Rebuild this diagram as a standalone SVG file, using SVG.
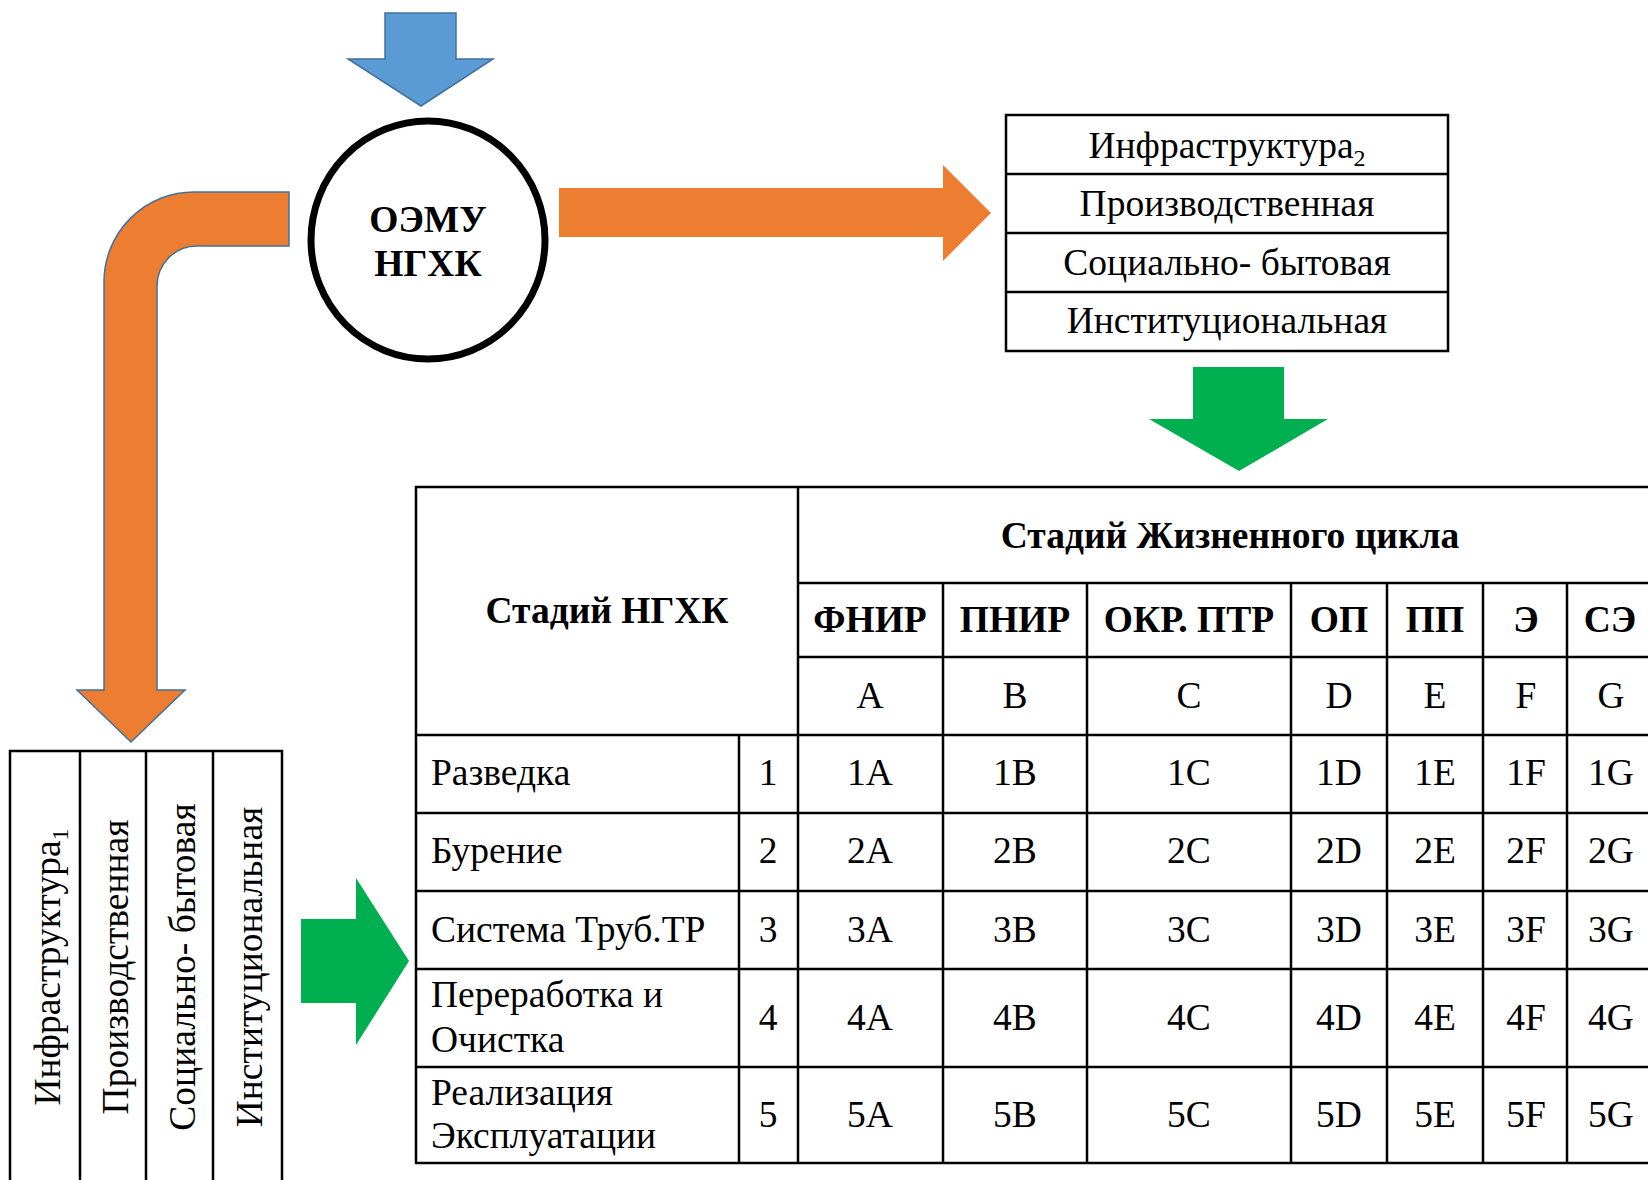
<svg xmlns="http://www.w3.org/2000/svg" width="1648" height="1180" viewBox="0 0 1648 1180">
<style>
  .t { font-family: "Liberation Serif", "Times New Roman", serif; font-size: 37.5px; fill: #000; }
  .b { font-weight: bold; }
  .m { text-anchor: middle; }
  .grid { stroke: #000; stroke-width: 2.5; fill: none; }
  .orange { fill: #ED7D31; }
  .green { fill: #00B050; }
</style>
<rect x="0" y="0" width="1648" height="1180" fill="#fff"/>

<g id="connectors">
  <path id="arrow-in" d="M385,13 L456,13 L456,59 L493,59 L421,106 L348,59 L385,59 Z" fill="#5B9BD5" stroke="#41719C" stroke-width="1.5"/>
  <path id="arrow-right" class="orange" d="M559,188 L943,188 L943,165 L991,213 L943,261 L943,237 L559,237 Z"/>
  <path id="arrow-bent" class="orange" stroke="#41719C" stroke-width="1.5" d="M289,192 L194,192 A90,90 0 0 0 104,282 L104,690 L77,690 L131,742 L185,690 L157,690 L157,286 A40,40 0 0 1 197,246 L289,246 Z"/>
  <path id="arrow-down-green" class="green" d="M1193,367 L1284,367 L1284,419 L1328,419 L1239,471 L1149,419 L1193,419 Z"/>
  <path id="arrow-right-green" class="green" d="M301,919 L356,919 L356,878 L409,961 L356,1045 L356,1003 L301,1003 Z"/>
</g>

<g id="node-oemu">
  <ellipse cx="428" cy="240" rx="117" ry="119" fill="#fff" stroke="#000" stroke-width="7"/>
  <text class="t b m" x="428" y="232" font-size="38.5">ОЭМУ</text>
  <text class="t b m" x="428" y="276" font-size="38.5">НГХК</text>
</g>

<g id="node-infra2">
  <rect class="grid" x="1006" y="115" width="442" height="236"/>
  <line class="grid" x1="1006" y1="174" x2="1448" y2="174"/>
  <line class="grid" x1="1006" y1="233" x2="1448" y2="233"/>
  <line class="grid" x1="1006" y1="292" x2="1448" y2="292"/>
  <text class="t m" x="1227" y="158">Инфраструктура<tspan dy="8" font-size="24">2</tspan></text>
  <text class="t m" x="1227" y="216">Производственная</text>
  <text class="t m" x="1227" y="275">Социально- бытовая</text>
  <text class="t m" x="1227" y="333">Институциональная</text>
</g>

<g id="node-infra1">
  <path class="grid" d="M10,1180 L10,751 L282,751 L282,1180"/>
  <line class="grid" x1="80" y1="751" x2="80" y2="1180"/>
  <line class="grid" x1="146" y1="751" x2="146" y2="1180"/>
  <line class="grid" x1="213" y1="751" x2="213" y2="1180"/>
  <text class="t m" transform="translate(60,967) rotate(-90)">Инфраструктура<tspan dy="8" font-size="24">1</tspan></text>
  <text class="t m" transform="translate(128,967) rotate(-90)">Производственная</text>
  <text class="t m" transform="translate(195,967) rotate(-90)">Социально- бытовая</text>
  <text class="t m" transform="translate(262,967) rotate(-90)">Институциональная</text>
</g>

<g id="node-stages-table">
  <path class="grid" d="M1648,487 L416,487 L416,1163 L1648,1163"/>
  <line class="grid" x1="798" y1="487" x2="798" y2="1163"/>
  <line class="grid" x1="798" y1="583" x2="1648" y2="583"/>
  <line class="grid" x1="798" y1="657" x2="1648" y2="657"/>
  <line class="grid" x1="416" y1="735" x2="1648" y2="735"/>
  <line class="grid" x1="416" y1="813" x2="1648" y2="813"/>
  <line class="grid" x1="416" y1="891" x2="1648" y2="891"/>
  <line class="grid" x1="416" y1="969" x2="1648" y2="969"/>
  <line class="grid" x1="416" y1="1067" x2="1648" y2="1067"/>
  <line class="grid" x1="739" y1="735" x2="739" y2="1163"/>
  <line class="grid" x1="943" y1="583" x2="943" y2="1163"/>
  <line class="grid" x1="1087" y1="583" x2="1087" y2="1163"/>
  <line class="grid" x1="1291" y1="583" x2="1291" y2="1163"/>
  <line class="grid" x1="1387" y1="583" x2="1387" y2="1163"/>
  <line class="grid" x1="1483" y1="583" x2="1483" y2="1163"/>
  <line class="grid" x1="1567" y1="583" x2="1567" y2="1163"/>

  <text class="t b m" x="607" y="623">Стадий НГХК</text>
  <text class="t b m" x="1230" y="548">Стадий Жизненного цикла</text>

  <g class="t b m">
    <text x="870" y="632">ФНИР</text>
    <text x="1015" y="632">ПНИР</text>
    <text x="1189" y="632">ОКР. ПТР</text>
    <text x="1339" y="632">ОП</text>
    <text x="1435" y="632">ПП</text>
    <text x="1526" y="632">Э</text>
    <text x="1610" y="632">СЭ</text>
  </g>
  <g class="t m">
    <text x="870" y="708">A</text>
    <text x="1015" y="708">B</text>
    <text x="1189" y="708">C</text>
    <text x="1339" y="708">D</text>
    <text x="1435" y="708">E</text>
    <text x="1526" y="708">F</text>
    <text x="1611" y="708">G</text>
  </g>

  <g class="t">
    <text x="431" y="785">Разведка</text>
    <text x="431" y="863">Бурение</text>
    <text x="431" y="942">Система Труб.ТР</text>
    <text x="431" y="1007">Переработка и</text>
    <text x="431" y="1052">Очистка</text>
    <text x="431" y="1105">Реализация</text>
    <text x="431" y="1148">Эксплуатации</text>
  </g>
  <g class="t m">
    <text x="768" y="785">1</text>
    <text x="768" y="863">2</text>
    <text x="768" y="942">3</text>
    <text x="768" y="1030">4</text>
    <text x="768" y="1127">5</text>
  </g>

  <g class="t m">
    <text x="870" y="785">1A</text><text x="1015" y="785">1B</text><text x="1189" y="785">1C</text><text x="1339" y="785">1D</text><text x="1435" y="785">1E</text><text x="1526" y="785">1F</text><text x="1611" y="785">1G</text>
    <text x="870" y="863">2A</text><text x="1015" y="863">2B</text><text x="1189" y="863">2C</text><text x="1339" y="863">2D</text><text x="1435" y="863">2E</text><text x="1526" y="863">2F</text><text x="1611" y="863">2G</text>
    <text x="870" y="942">3A</text><text x="1015" y="942">3B</text><text x="1189" y="942">3C</text><text x="1339" y="942">3D</text><text x="1435" y="942">3E</text><text x="1526" y="942">3F</text><text x="1611" y="942">3G</text>
    <text x="870" y="1030">4A</text><text x="1015" y="1030">4B</text><text x="1189" y="1030">4C</text><text x="1339" y="1030">4D</text><text x="1435" y="1030">4E</text><text x="1526" y="1030">4F</text><text x="1611" y="1030">4G</text>
    <text x="870" y="1127">5A</text><text x="1015" y="1127">5B</text><text x="1189" y="1127">5C</text><text x="1339" y="1127">5D</text><text x="1435" y="1127">5E</text><text x="1526" y="1127">5F</text><text x="1611" y="1127">5G</text>
  </g>
</g>
</svg>
